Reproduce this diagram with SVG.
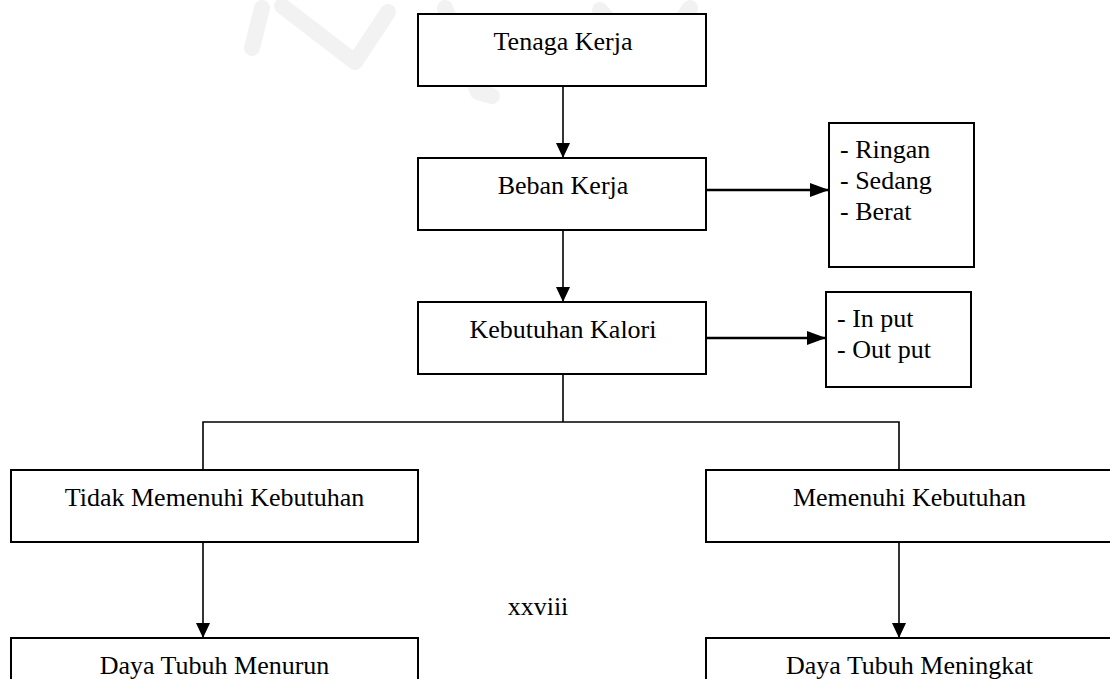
<svg xmlns="http://www.w3.org/2000/svg" width="1110" height="679" viewBox="0 0 1110 679">
<style>
.box{fill:#fff;stroke:#000;stroke-width:2}
.t{font-family:"Liberation Serif","Times New Roman",serif;font-size:26px;fill:#000}
.c{text-anchor:middle}
.ln{fill:none;stroke:#000;stroke-width:1.6}
.lh{fill:none;stroke:#000;stroke-width:2.6}
.wm{fill:none;stroke:#f2f2f2;stroke-width:16;stroke-linecap:round;stroke-linejoin:round}
</style>
<defs>
<marker id="ah" markerUnits="userSpaceOnUse" markerWidth="16" markerHeight="16" viewBox="0 0 16 16" refX="15" refY="8" orient="auto">
<path d="M0,1 L15,8 L0,15 Z" fill="#000"/>
</marker>
<marker id="ah2" markerUnits="userSpaceOnUse" markerWidth="20" markerHeight="16" viewBox="0 0 20 16" refX="19" refY="8" orient="auto">
<path d="M0,1 L19,8 L0,15 Z" fill="#000"/>
</marker>
</defs>
<rect width="1110" height="679" fill="#fff"/>
<g id="watermark">
<path class="wm" d="M252,48 L262,8 M282,6 L355,62 L388,12 M445,8 L478,92 L492,96 M600,10 L640,55 L668,40 L690,8"/>
</g>
<g id="connectors">
<line class="ln" x1="563" y1="86" x2="563" y2="158" marker-end="url(#ah)"/>
<line class="ln" x1="563" y1="230" x2="563" y2="302" marker-end="url(#ah)"/>
<line class="lh" x1="706" y1="190" x2="829" y2="190" marker-end="url(#ah2)"/>
<line class="lh" x1="706" y1="338" x2="826" y2="338" marker-end="url(#ah2)"/>
<polyline class="ln" points="563,374 563,422"/>
<polyline class="ln" points="203,470 203,422 899,422 899,470"/>
<line class="ln" x1="203" y1="542" x2="203" y2="638" marker-end="url(#ah)"/>
<line class="ln" x1="899" y1="542" x2="899" y2="638" marker-end="url(#ah)"/>
</g>
<g id="tenaga-kerja">
<rect class="box" x="418" y="14" width="288" height="72"/>
<text class="t c" x="563" y="50">Tenaga Kerja</text>
</g>
<g id="beban-kerja">
<rect class="box" x="418" y="158" width="288" height="72"/>
<text class="t c" x="563" y="194">Beban Kerja</text>
</g>
<g id="kategori-beban">
<rect class="box" x="829" y="123" width="145" height="144"/>
<text class="t" x="840" y="158">- Ringan</text>
<text class="t" x="840" y="189">- Sedang</text>
<text class="t" x="840" y="220">- Berat</text>
</g>
<g id="kebutuhan-kalori">
<rect class="box" x="418" y="302" width="288" height="72"/>
<text class="t c" x="563" y="338">Kebutuhan Kalori</text>
</g>
<g id="input-output">
<rect class="box" x="826" y="292" width="145" height="95"/>
<text class="t" x="837" y="327">- In put</text>
<text class="t" x="837" y="358">- Out put</text>
</g>
<g id="tidak-memenuhi">
<rect class="box" x="11" y="470" width="407" height="72"/>
<text class="t c" x="214.5" y="506">Tidak Memenuhi Kebutuhan</text>
</g>
<g id="memenuhi">
<rect class="box" x="706" y="470" width="407" height="72"/>
<text class="t c" x="909.5" y="506">Memenuhi Kebutuhan</text>
</g>
<g id="daya-menurun">
<rect class="box" x="11" y="638" width="407" height="72"/>
<text class="t c" x="214.5" y="674">Daya Tubuh Menurun</text>
</g>
<g id="daya-meningkat">
<rect class="box" x="706" y="638" width="407" height="72"/>
<text class="t c" x="909.5" y="674">Daya Tubuh Meningkat</text>
</g>
<text class="t c" x="538" y="615">xxviii</text>
</svg>
